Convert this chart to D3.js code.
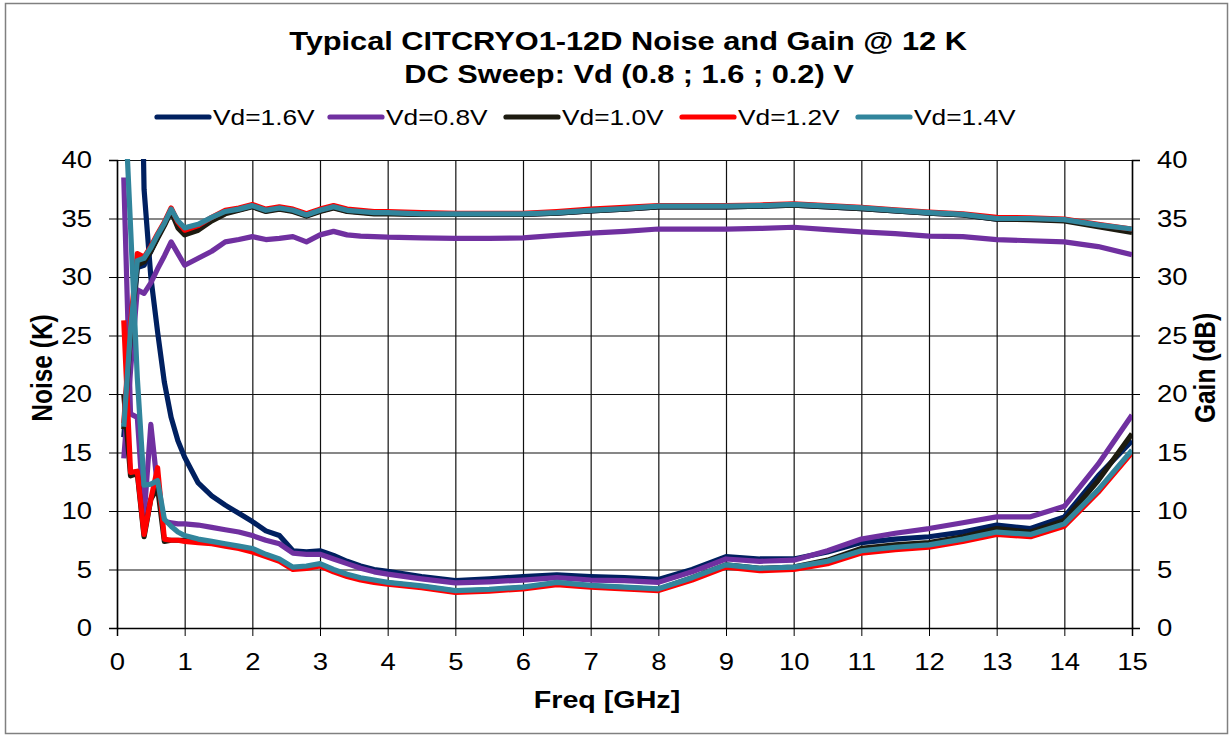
<!DOCTYPE html>
<html>
<head>
<meta charset="utf-8">
<script src="https://cdn.jsdelivr.net/npm/d3@7"></script>
<style>
body { margin: 0; background: #fff; }
text { font-family: Arial, "Liberation Sans", sans-serif; fill: #000; }
</style>
</head>
<body>
<div id="chart"></div>
<script>
// frequency points (GHz), shared by all curves
var freq = [0.1,0.2,0.3,0.4,0.5,0.6,0.7,0.8,0.9,1.0,
	1.2,1.4,1.6,1.8,2.0,2.2,2.4,2.6,2.8,3.0,3.2,3.4,3.6,3.8,4.0,
	4.5,5.0,5.5,6.0,6.5,7.0,7.5,8.0,8.5,9.0,9.5,10.0,10.5,11.0,11.5,12.0,12.5,13.0,13.5,14.0,14.5,15.0];

// gain (dB)
var gain_16 = [16.3,24.0,30.8,31.0,32.2,33.4,34.5,35.7,34.6,34.1,
	34.4,35.0,35.5,35.75,36.05,35.65,35.85,35.65,35.25,35.65,35.95,35.65,35.55,35.45,35.45,
	35.35,35.35,35.35,35.35,35.45,35.65,35.8,36.0,36.0,36.0,36.05,36.15,36.0,35.85,35.65,35.45,35.3,34.95,34.95,34.85,34.4,34.0];
var gain_08 = [14.5,22.0,28.9,28.6,29.5,30.7,31.8,33.0,32.0,31.0,
	31.6,32.2,33.0,33.2,33.45,33.2,33.3,33.45,33.0,33.6,33.9,33.6,33.5,33.45,33.4,
	33.35,33.3,33.3,33.35,33.55,33.75,33.9,34.1,34.1,34.1,34.15,34.25,34.05,33.85,33.7,33.5,33.45,33.2,33.1,33.0,32.6,31.9];
var gain_10 = [17.0,25.0,31.0,31.3,32.2,33.3,34.4,35.6,34.2,33.6,
	34.0,34.8,35.4,35.7,36.0,35.6,35.8,35.6,35.2,35.6,35.9,35.6,35.5,35.4,35.4,
	35.35,35.35,35.35,35.35,35.45,35.65,35.8,36.0,36.0,36.0,36.05,36.15,36.0,35.85,35.65,35.45,35.3,34.95,34.9,34.8,34.3,33.8];
var gain_12 = [17.5,26.0,32.0,31.7,32.6,33.7,34.7,35.9,34.7,34.0,
	34.4,35.1,35.7,35.9,36.2,35.8,36.0,35.8,35.4,35.8,36.1,35.8,35.7,35.6,35.6,
	35.5,35.45,35.45,35.45,35.6,35.8,35.95,36.1,36.1,36.1,36.15,36.25,36.1,35.95,35.75,35.55,35.4,35.1,35.05,34.95,34.5,34.1];
var gain_14 = [17.2,25.5,31.4,31.6,32.5,33.6,34.6,35.8,34.8,34.2,
	34.5,35.1,35.6,35.8,36.1,35.7,35.9,35.7,35.3,35.7,36.0,35.7,35.6,35.5,35.5,
	35.4,35.4,35.4,35.4,35.5,35.7,35.85,36.05,36.05,36.05,36.1,36.2,36.05,35.9,35.7,35.5,35.35,35.0,35.0,34.9,34.45,34.1];

// noise (K)
var noise_16 = [55,90,70,37.5,30.0,25.3,21.0,18.0,16.0,14.6,
	12.4,11.3,10.5,9.8,9.1,8.3,7.9,6.6,6.5,6.6,6.2,5.7,5.3,5.0,4.85,
	4.4,4.05,4.2,4.4,4.55,4.4,4.3,4.15,5.0,6.1,5.9,5.9,6.5,7.3,7.6,7.8,8.2,8.8,8.5,9.5,13.0,16.0];
var noise_08 = [38.5,18.3,18.0,9.5,17.4,12.0,9.1,9.0,8.9,8.9,
	8.8,8.6,8.4,8.2,7.9,7.5,7.2,6.4,6.3,6.3,5.9,5.5,5.1,4.8,4.6,
	4.2,3.85,3.95,4.1,4.3,4.1,4.05,3.9,4.8,5.9,5.7,5.8,6.6,7.6,8.1,8.5,9.0,9.5,9.5,10.4,14.0,18.2];
var noise_10 = [20.0,13.0,13.2,7.8,11.0,12.0,7.4,7.5,7.5,7.5,
	7.4,7.3,7.1,6.9,6.7,6.2,5.8,5.1,5.2,5.4,4.9,4.5,4.2,4.0,3.85,
	3.55,3.15,3.25,3.45,3.8,3.6,3.45,3.3,4.3,5.4,5.1,5.2,5.8,6.8,7.1,7.3,7.8,8.5,8.2,9.2,12.6,16.6];
var noise_12 = [26.3,13.3,13.4,8.0,11.0,13.7,7.6,7.5,7.5,7.4,
	7.3,7.2,7.0,6.8,6.5,6.1,5.7,5.0,5.1,5.3,4.8,4.4,4.1,3.9,3.75,
	3.45,3.05,3.15,3.35,3.7,3.5,3.35,3.2,4.1,5.2,4.9,5.0,5.5,6.4,6.7,6.9,7.4,8.0,7.8,8.7,11.6,15.0];
var noise_14 = [47,34.3,21.4,12.2,12.3,12.6,9.3,8.7,8.2,7.9,
	7.6,7.4,7.2,7.0,6.8,6.3,5.9,5.2,5.3,5.5,5.0,4.6,4.3,4.1,3.9,
	3.6,3.2,3.3,3.5,3.9,3.65,3.5,3.35,4.3,5.4,5.1,5.2,5.7,6.6,6.9,7.1,7.6,8.2,8.0,8.9,11.8,15.2];

var seriesNames = ['Vd=1.6V', 'Vd=0.8V', 'Vd=1.0V', 'Vd=1.2V', 'Vd=1.4V'];
var seriesColors = ['#002060', '#7030a0', '#1d1b10', '#ff0000', '#31859c'];
var gains = [gain_16, gain_08, gain_10, gain_12, gain_14];
var noises = [noise_16, noise_08, noise_10, noise_12, noise_14];

var xTicks = d3.range(0, 16, 1);
var yTicks = d3.range(0, 45, 5);

var chart_width = 1231, chart_height = 735;
var plot_left = 117, plot_right = 1132, plot_top = 160, plot_bottom = 628;
var sx = 1.17; // text in the picture is a little wide
var line_w = 5.2;

var svg = d3.select('#chart')
	.append('svg')
	.attr('width', chart_width)
	.attr('height', chart_height);

// outer frame
svg.append('rect')
	.attr('x', 5.5).attr('y', 3.5)
	.attr('width', 1222).attr('height', 730)
	.attr('fill', '#fff')
	.attr('stroke', '#808080')
	.attr('stroke-width', 1.5);

// scales
var x_scale = d3.scaleLinear().domain([0, 15]).range([plot_left, plot_right]);
var y_noise = d3.scaleLinear().domain([0, 40]).range([plot_bottom, plot_top]);
var y_gain = d3.scaleLinear().domain([0, 40]).range([plot_bottom, plot_top]);

// grid
svg.append('g')
	.attr('class', 'x-grid')
	.attr('transform', 'translate(0,' + plot_top + ')')
	.call(d3.axisBottom(x_scale).tickValues(xTicks).tickSize(plot_bottom - plot_top).tickFormat(''))
	.call(function(g){ g.select('.domain').remove(); })
	.selectAll('line').attr('stroke', '#111').attr('stroke-width', 1.2);
svg.append('g')
	.attr('class', 'y-grid')
	.attr('transform', 'translate(' + plot_left + ',0)')
	.call(d3.axisRight(y_noise).tickValues(yTicks).tickSize(plot_right - plot_left).tickFormat(''))
	.call(function(g){ g.select('.domain').remove(); })
	.selectAll('line').attr('stroke', '#111').attr('stroke-width', 1.2);

// axes
var gx = svg.append('g')
	.attr('class', 'x-axis')
	.attr('transform', 'translate(0,' + plot_bottom + ')')
	.call(d3.axisBottom(x_scale).tickValues(xTicks).tickSize(8).tickPadding(17));

var gl = svg.append('g')
	.attr('class', 'y-axis')
	.attr('transform', 'translate(' + plot_left + ',0)')
	.call(d3.axisLeft(y_noise).tickValues(yTicks).tickSize(8));

var gr = svg.append('g')
	.attr('class', 'y2-axis')
	.attr('transform', 'translate(' + plot_right + ',0)')
	.call(d3.axisRight(y_gain).tickValues(yTicks).tickSize(8));

[gx, gl, gr].forEach(function(g){
	g.attr('font-size', null).attr('font-family', null);
	g.selectAll('line').attr('stroke', '#000');
	g.select('.domain').attr('stroke', '#000').attr('stroke-width', 1.5);
	g.selectAll('text').style('font-size', '23.5px');
});
gx.selectAll('text').attr('transform', 'scale(' + sx + ',1)');
gl.selectAll('text').attr('x', null)
	.attr('transform', 'translate(-25,0) scale(' + sx + ',1)');
gr.selectAll('text').attr('x', null)
	.attr('transform', 'translate(25,0) scale(' + sx + ',1)');

// curves
svg.append('clipPath').attr('id', 'plot-clip')
	.append('rect')
	.attr('x', plot_left).attr('y', plot_top - 1)
	.attr('width', plot_right - plot_left).attr('height', plot_bottom - plot_top + 1);

var plot = svg.append('g').attr('clip-path', 'url(#plot-clip)');

function curve(values, yscale) {
	return d3.line()
		.x(function(d, i){ return x_scale(freq[i]); })
		.y(function(d){ return yscale(d); })(values);
}

for (var i = 0; i < seriesNames.length; i++) {
	plot.append('path')
		.attr('d', curve(gains[i], y_gain))
		.attr('fill', 'none')
		.attr('stroke', seriesColors[i])
		.attr('stroke-width', line_w)
		.attr('stroke-linejoin', 'round');
	plot.append('path')
		.attr('d', curve(noises[i], y_noise))
		.attr('fill', 'none')
		.attr('stroke', seriesColors[i])
		.attr('stroke-width', line_w)
		.attr('stroke-linejoin', 'round');
}

// titles
function wideText(txt, x, y, size, bold, rotate) {
	var t = svg.append('text')
		.text(txt)
		.attr('text-anchor', 'middle')
		.style('font-size', size + 'px')
		.style('font-weight', bold ? 'bold' : 'normal');
	var tr = 'translate(' + x + ',' + y + ') scale(' + sx + ',1)';
	if (rotate) tr += ' rotate(' + rotate + ')';
	t.attr('transform', tr);
	return t;
}

wideText('Typical CITCRYO1-12D Noise and Gain @ 12 K', 628, 50, 26.3, true);
wideText('DC Sweep: Vd (0.8 ; 1.6 ; 0.2) V', 629, 83, 26.3, true);
wideText('Freq [GHz]', 607, 708, 24.5, true);
wideText('Noise (K)', 52, 368, 24.5, true, -90);
wideText('Gain (dB)', 1215, 368, 24.5, true, -90);

// legend
var legendX = [157, 330, 506, 682, 858];
var legend = svg.append('g').attr('class', 'legend');
legend.selectAll('line')
	.data(seriesNames)
	.enter()
	.append('line')
	.attr('x1', function(d, i){ return legendX[i]; })
	.attr('x2', function(d, i){ return legendX[i] + 52; })
	.attr('y1', 117).attr('y2', 117)
	.attr('stroke', function(d, i){ return seriesColors[i]; })
	.attr('stroke-width', line_w)
	.attr('stroke-linecap', 'round');
legend.selectAll('text')
	.data(seriesNames)
	.enter()
	.append('text')
	.text(function(d){ return d; })
	.style('font-size', '22.5px')
	.attr('transform', function(d, i){
		return 'translate(' + (legendX[i] + 56) + ',125) scale(' + sx + ',1)';
	});
</script>
</body>
</html>
